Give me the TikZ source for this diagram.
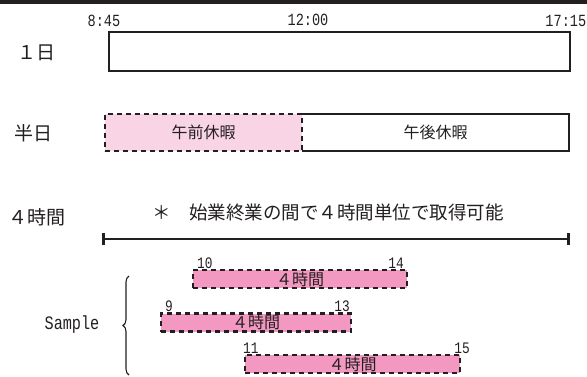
\documentclass[tikz,border=0pt]{standalone}
\usepackage{fontspec}
\setmainfont{Noto Sans CJK JP}
\newfontfamily\timefnt[FakeStretch=0.8]{Liberation Mono}
\usetikzlibrary{arrows.meta,decorations.pathreplacing}
\definecolor{inkgray}{HTML}{231F20}
\definecolor{lightpink}{HTML}{F9D4E5}
\definecolor{barpink}{HTML}{F398C0}
\tikzset{
  rowlbl/.style={font=\fontsize{19}{19}\selectfont, text=inkgray, inner sep=0pt},
  timelbl/.style={font=\timefnt\fontsize{17}{17}\selectfont, text=inkgray, inner sep=0pt},
  hourlbl/.style={font=\timefnt\fontsize{16}{16}\selectfont, text=inkgray, inner sep=0pt},
  solidbox/.style={draw=inkgray, line width=2.6pt, inner sep=0pt, outer sep=0pt},
  dashbox/.style={draw=inkgray, line width=2.6pt, dash pattern=on 5pt off 4pt,
    inner sep=0pt, outer sep=0pt, text=inkgray, font=\fontsize{16}{16}\selectfont},
  hourbar/.style={dashbox, fill=barpink, minimum height=18pt}
}
\begin{document}
\begin{tikzpicture}[x=1pt, y=-1pt]
  \useasboundingbox (0,0) rectangle (587,376);
  \fill[inkgray] (0,0) rectangle (587,3.5);
  % time marks
  \node[timelbl] (t845) at (104,21) {8:45};
  \node[timelbl] (t1200) at (308,20) {12:00};
  \node[timelbl, anchor=east] (t1715) at (586.5,21) {17:15};
  % row labels
  \node[rowlbl] (day) at (36,53) {１日};
  \node[rowlbl] (half) at (34,133) {半日};
  \node[rowlbl] (four) at (37,217) {４時間};
  % full day
  \node[solidbox, minimum width=461pt, minimum height=39pt] (full) at (339.5,51.5) {};
  % half day
  \node[inner sep=0pt, outer sep=0pt, minimum width=267pt, minimum height=37pt,
    text=inkgray, font=\fontsize{16}{16}\selectfont] (pm) at (435.5,132.5) {午後休暇};
  \draw[inkgray, line width=2.6pt] (pm.north west) -- (pm.north east)
    -- (pm.south east) -- (pm.south west);
  \node[dashbox, fill=lightpink, minimum width=197pt, minimum height=37pt] (am)
    at (203.5,132.5) {午前休暇};
  % 4 hours
  \node[text=inkgray, inner sep=0pt, font=\fontsize{18.5}{18.5}\selectfont] (note)
    at (328,213) {＊　始業終業の間で４時間単位で取得可能};
  \coordinate (span0) at (102,239);
  \coordinate (span1) at (570,239);
  \draw[inkgray, line width=2.6pt, {Bar[width=12pt]}-{Bar[width=12pt]}] (span0) -- (span1);
  % samples
  \node[hourbar, minimum width=214pt] (b1) at (300,279) {４時間};
  \node[hourbar, minimum width=190pt] (b2) at (256,322.5) {４時間};
  \node[hourbar, minimum width=215pt] (b3) at (352.5,364) {４時間};
  \node[hourlbl, anchor=south west] (h10) at ([xshift=4pt,yshift=1.5pt]b1.north west) {10};
  \node[hourlbl, anchor=south east] (h14) at ([xshift=-3pt,yshift=1.5pt]b1.north east) {14};
  \node[hourlbl, anchor=south west] (h9) at ([xshift=4pt,yshift=1.5pt]b2.north west) {9};
  \node[hourlbl, anchor=south east] (h13) at ([xshift=-1pt,yshift=1.5pt]b2.north east) {13};
  \node[hourlbl, anchor=south west] (h11) at ([xshift=-2pt,yshift=1.5pt]b3.north west) {11};
  \node[hourlbl, anchor=south east] (h15) at ([xshift=10pt,yshift=1.5pt]b3.north east) {15};
  \node[timelbl, font=\timefnt\fontsize{19}{19}\selectfont] (sample) at (72,325) {Sample};
  \coordinate (br0) at (129,375);
  \coordinate (br1) at (129,276);
  \draw[inkgray, line width=1.1pt, decorate, decoration={brace, amplitude=6pt}] (br0) -- (br1);
\end{tikzpicture}
\end{document}
